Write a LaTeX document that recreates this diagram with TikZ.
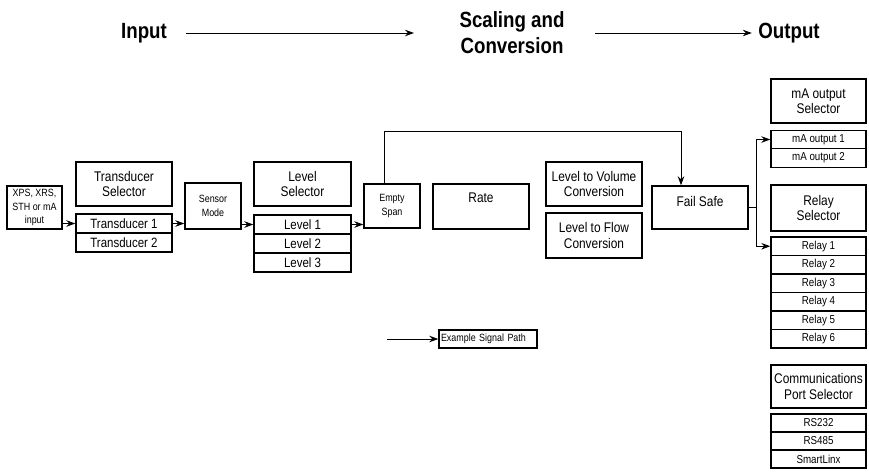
\documentclass[tikz,border=0pt]{standalone}
\usepackage{fontspec}
\setmainfont{Liberation Sans}[FakeStretch=0.85]
\usetikzlibrary{arrows.meta}
\begin{document}
\begin{tikzpicture}[x=1pt, y=-1pt,
    blk/.style={draw, line width=1.4pt, align=center, inner sep=1pt, font=\fontsize{14}{15.5}\selectfont},
    selbox/.style={blk, minimum width=96pt, minimum height=44pt},
    rowbox/.style={blk, minimum width=96pt, minimum height=19pt, font=\fontsize{13.5}{14}\selectfont},
    srowbox/.style={blk, minimum width=95pt, minimum height=18.5pt, font=\fontsize{11.5}{12}\selectfont},
    sbox/.style={blk, minimum width=56pt, minimum height=45pt, font=\fontsize{10.5}{14}\selectfont},
    ttl/.style={font=\fontsize{22}{26}\selectfont\bfseries, align=center},
    sig/.style={-{Stealth[length=9pt, width=6.5pt]}, line width=1pt}
  ]
  \useasboundingbox (0,0) rectangle (869,472);

  % heading
  \node[ttl] (hin) at (144,33) {Input};
  \node[ttl] (hsc) at (512,33) {Scaling and\\Conversion};
  \node[ttl] (hout) at (789,33) {Output};
  \draw[sig] ([xshift=16pt]hin.east) -- ([xshift=-42pt]hsc.west);
  \draw[sig] ([xshift=27pt]hsc.east) -- ([xshift=-3pt]hout.west);

  % input side
  \node[blk, minimum width=55pt, minimum height=43pt, font=\fontsize{10.5}{13.5}\selectfont] (inp) at (34.5,207.5) {XPS, XRS,\\STH or mA\\input};
  \node[selbox] (tsel) at (124,184) {Transducer\\Selector};
  \node[rowbox] (t1) at (124,223.5) {Transducer 1};
  \node[rowbox] (t2) at (124,242.5) {Transducer 2};
  \node[sbox, minimum height=46pt] (smode) at (213,206) {Sensor\\Mode};
  \node[selbox, minimum width=97pt] (lsel) at (302.5,184) {Level\\Selector};
  \node[rowbox, minimum width=97pt] (l1) at (302.5,224.5) {Level 1};
  \node[rowbox, minimum width=97pt] (l2) at (302.5,243.5) {Level 2};
  \node[rowbox, minimum width=97pt] (l3) at (302.5,262.5) {Level 3};

  % scaling and conversion
  \node[sbox, minimum height=44pt] (espan) at (392,206) {Empty\\Span};
  \node[selbox, minimum height=45pt, text depth=18pt] (rate) at (481,206.5) {Rate};
  \node[selbox] (lvol) at (594,184) {Level to Volume\\Conversion};
  \node[selbox, minimum height=45pt] (lflow) at (594,235.5) {Level to Flow\\Conversion};
  \node[selbox, minimum height=43pt, text depth=12pt] (fsafe) at (700,207.5) {Fail Safe};

  % output side
  \node[selbox, minimum width=95pt] (masel) at (818.5,101) {mA output\\Selector};
  \node[srowbox] (ma1) at (818.5,139.5) {mA output 1};
  \node[srowbox] (ma2) at (818.5,158) {mA output 2};
  \node[selbox, minimum width=95pt, minimum height=46pt] (rsel) at (818.5,208) {Relay\\Selector};
  \foreach \i in {1,...,6}
    \node[srowbox] (r\i) at (818.5,227.75+18.5*\i) {Relay \i};
  \node[selbox, minimum width=95pt, minimum height=43pt] (csel) at (818.5,386.5) {Communications\\Port Selector};
  \node[srowbox, minimum height=18pt] (c1) at (818.5,423) {RS232};
  \node[srowbox, minimum height=18pt] (c2) at (818.5,441) {RS485};
  \node[srowbox, minimum height=18pt] (c3) at (818.5,459) {SmartLinx};

  % legend
  \node[blk, minimum width=98pt, minimum height=18pt, text width=94pt, align=left, font=\fontsize{10.5}{12}\selectfont] (ex) at (488,339) {Example Signal Path};

  % signal path
  \draw[sig] (inp.east |- t1) -- (t1.west);
  \draw[sig] (t1.east) -- (t1.east -| smode.west);
  \draw[sig] (smode.east |- l1) -- (l1.west);
  \draw[sig] (l1.east) -- (l1.east -| espan.west);
  \coordinate (top) at (0,131);
  \draw[sig] ([xshift=-8pt]espan.north) |- ([xshift=-19pt]fsafe.north |- top) -- ([xshift=-19pt]fsafe.north);
  \coordinate (fork) at ([xshift=8pt]fsafe.east);
  \draw[line width=1pt] (fsafe.east) -- (fork);
  \draw[sig] (fork) |- (ma1.west);
  \draw[sig] (fork) |- (r1.west);
  \draw[sig] ([xshift=-51pt]ex.west) -- (ex.west);
\end{tikzpicture}
\end{document}
